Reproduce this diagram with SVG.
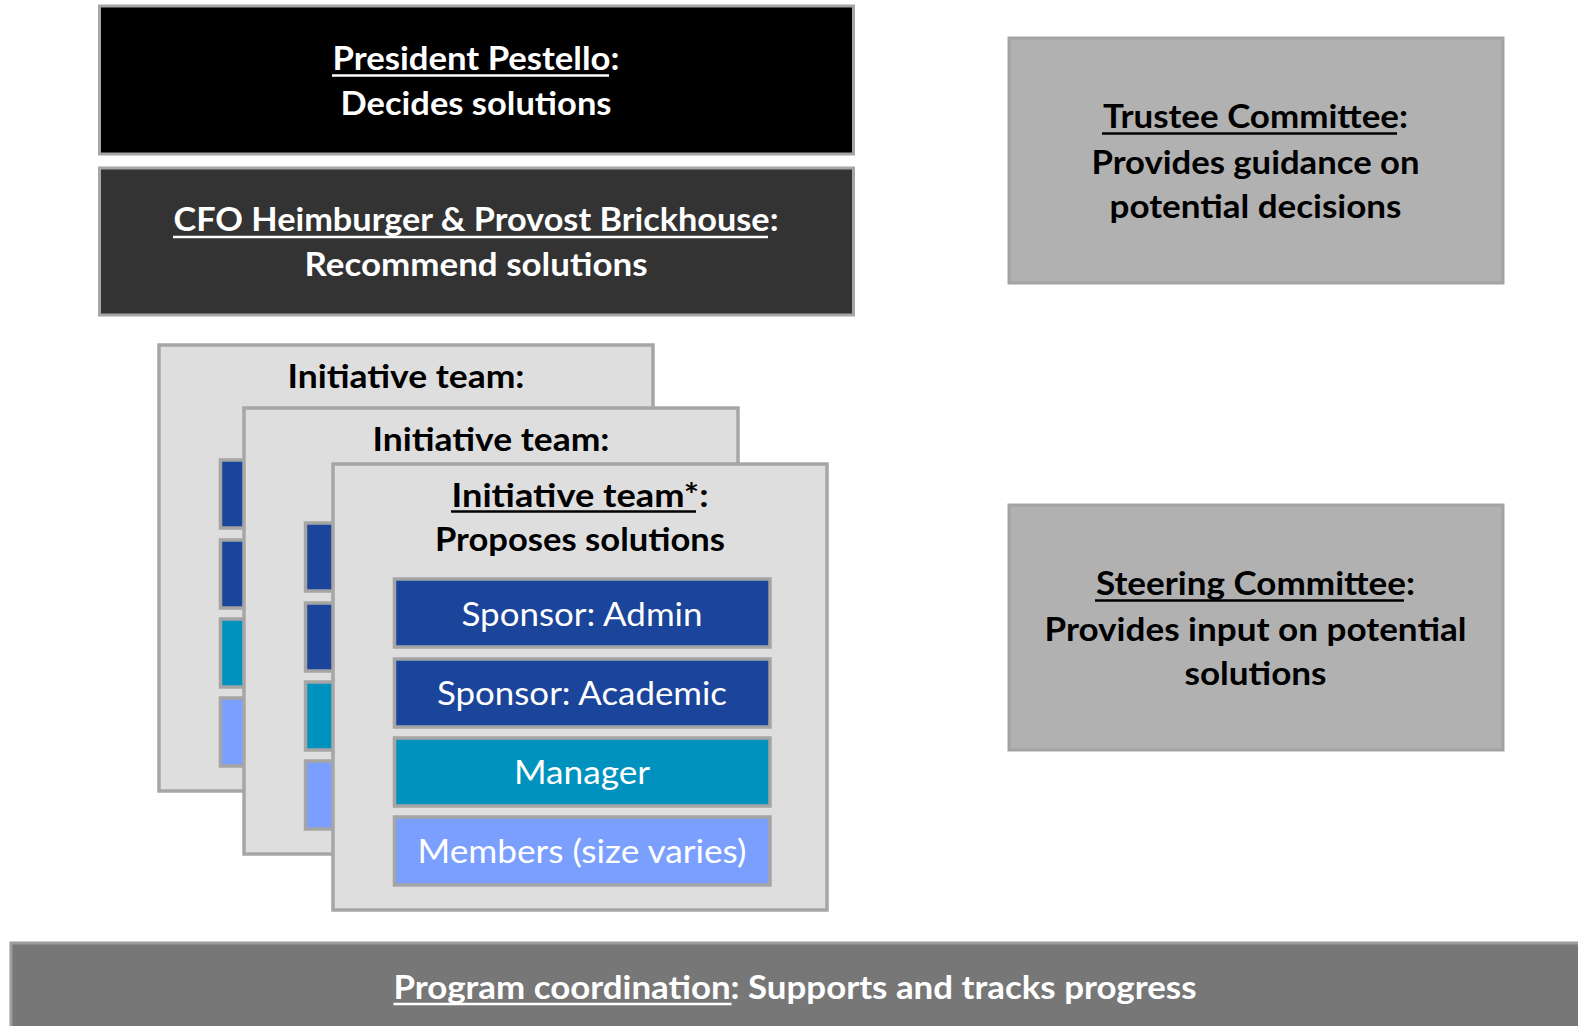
<svg xmlns="http://www.w3.org/2000/svg" width="1578" height="1026" viewBox="0 0 1578 1026">
  <style>
    .t { font-family: Lato, "Open Sans", "Liberation Sans", sans-serif; font-size: 33px; text-anchor: middle; }
    .b { font-weight: 700; }
    .r { font-weight: 400; }
    .w { fill: #ffffff; }
    .k { fill: #000000; }
    .ulw { stroke: #ffffff; stroke-width: 2.5; }
    .ulk { stroke: #000000; stroke-width: 2.5; }
    .team { fill: #dedede; stroke: #a6a6a6; stroke-width: 3.5; }
    .bar { stroke: #a5a5a5; stroke-width: 3.5; }
    .spon { fill: #1b449b; }
    .mgr { fill: #0092be; }
    .mem { fill: #7b9fff; }
    .comm { fill: #b1b1b1; stroke: #a3a3a3; stroke-width: 3; }
  </style>
  <defs>
    <!-- member bars shared by every initiative team card -->
    <g id="bars">
      <rect class="bar spon" x="61.5" y="115" width="375.5" height="68"/>
      <rect class="bar spon" x="61.5" y="195" width="375.5" height="68"/>
      <rect class="bar mgr" x="61.5" y="274" width="375.5" height="68"/>
      <rect class="bar mem" x="61.5" y="353" width="375.5" height="68"/>
    </g>
  </defs>

  <rect width="1578" height="1026" fill="#ffffff"/>

  <g id="president">
    <rect x="99.5" y="6" width="754" height="148" fill="#000000" stroke="#a6a6a6" stroke-width="3"/>
    <text class="t b w" x="476" y="70" textLength="287" lengthAdjust="spacingAndGlyphs">President Pestello:</text>
    <line class="ulw" x1="332" y1="75.5" x2="609" y2="75.5"/>
    <text class="t b w" x="476" y="115" textLength="271" lengthAdjust="spacingAndGlyphs">Decides solutions</text>
  </g>

  <g id="cfo-provost">
    <rect x="99.5" y="168" width="754" height="147" fill="#333333" stroke="#a6a6a6" stroke-width="3"/>
    <text class="t b w" x="476" y="231" textLength="605" lengthAdjust="spacingAndGlyphs">CFO Heimburger &amp; Provost Brickhouse:</text>
    <line class="ulw" x1="173" y1="237" x2="768" y2="237"/>
    <text class="t b w" x="476" y="276" textLength="343" lengthAdjust="spacingAndGlyphs">Recommend solutions</text>
  </g>

  <g id="trustee-committee">
    <rect class="comm" x="1009" y="38" width="494" height="245"/>
    <text class="t b k" x="1255.5" y="128" textLength="305" lengthAdjust="spacingAndGlyphs">Trustee Committee:</text>
    <line class="ulk" x1="1102" y1="133.5" x2="1397" y2="133.5"/>
    <text class="t b k" x="1255.5" y="173.5" textLength="328" lengthAdjust="spacingAndGlyphs">Provides guidance on</text>
    <text class="t b k" x="1255.5" y="218" textLength="292" lengthAdjust="spacingAndGlyphs">potential decisions</text>
  </g>

  <g id="steering-committee">
    <rect class="comm" x="1009" y="505" width="494" height="245"/>
    <text class="t b k" x="1255.5" y="595" textLength="319" lengthAdjust="spacingAndGlyphs">Steering Committee:</text>
    <line class="ulk" x1="1095" y1="600.5" x2="1404" y2="600.5"/>
    <text class="t b k" x="1255.5" y="640.5" textLength="422" lengthAdjust="spacingAndGlyphs">Provides input on potential</text>
    <text class="t b k" x="1255.5" y="685" textLength="142" lengthAdjust="spacingAndGlyphs">solutions</text>
  </g>

  <!-- stacked initiative team cards, back to front -->
  <g id="team-back" transform="translate(159 345)">
    <rect class="team" x="0" y="0" width="494" height="446"/>
    <text class="t b k" x="247" y="43" textLength="237" lengthAdjust="spacingAndGlyphs">Initiative team:</text>
    <use href="#bars"/>
  </g>

  <g id="team-middle" transform="translate(244 408)">
    <rect class="team" x="0" y="0" width="494" height="446"/>
    <text class="t b k" x="247" y="42.5" textLength="237" lengthAdjust="spacingAndGlyphs">Initiative team:</text>
    <use href="#bars"/>
  </g>

  <g id="team-front" transform="translate(333 464)">
    <rect class="team" x="0" y="0" width="494" height="446"/>
    <text class="t b k" x="247" y="42.7" textLength="257" lengthAdjust="spacingAndGlyphs">Initiative team*:</text>
    <line class="ulk" x1="118" y1="47.5" x2="363" y2="47.5"/>
    <text class="t b k" x="247" y="87" textLength="290" lengthAdjust="spacingAndGlyphs">Proposes solutions</text>
    <use href="#bars"/>
    <text class="t r w" x="249" y="161.5" textLength="241" lengthAdjust="spacingAndGlyphs">Sponsor: Admin</text>
    <text class="t r w" x="249" y="241" textLength="290" lengthAdjust="spacingAndGlyphs">Sponsor: Academic</text>
    <text class="t r w" x="249" y="319.5" textLength="136" lengthAdjust="spacingAndGlyphs">Manager</text>
    <text class="t r w" x="249" y="399" textLength="329" lengthAdjust="spacingAndGlyphs">Members (size varies)</text>
  </g>

  <g id="program-coordination">
    <rect x="11" y="943" width="1580" height="100" fill="#777777" stroke="#9c9c9c" stroke-width="3"/>
    <text class="t b w" x="795" y="999" textLength="803" lengthAdjust="spacingAndGlyphs">Program coordination: Supports and tracks progress</text>
    <line class="ulw" x1="393.5" y1="1004" x2="731.5" y2="1004"/>
  </g>

  <g id="connectors"/>
</svg>
